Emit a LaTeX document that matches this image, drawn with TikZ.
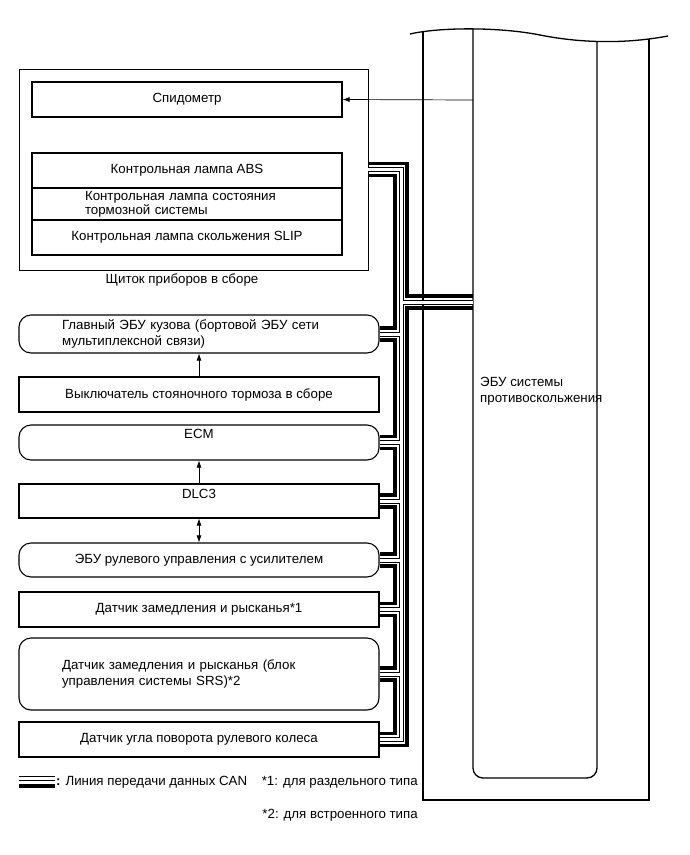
\documentclass[tikz,border=0pt]{standalone}
\usepackage{fontspec}
\setmainfont{Liberation Sans}
\usepackage{tikz}
\usetikzlibrary{arrows.meta,positioning,calc}

\begin{document}
\begin{tikzpicture}[
				x = 1pt, y = -1pt,
				every node/.style = {font=\fontsize{13.3}{16.5}\selectfont, inner sep=0pt},
				box/.style = {draw, line width=1.1pt, minimum width=360pt, minimum height=35pt},
				rbox/.style = {box, rounded corners=12pt},
				lamp/.style = {draw, line width=1.1pt, minimum width=310pt, minimum height=35pt},
				arr/.style = {-{Latex[length=7pt,width=5pt]}, line width=0.7pt},
				canthick/.style = {line width=3.5pt},
				canblk/.style = {line width=5pt},
				canwht/.style = {line width=3pt, white}
				]
				\useasboundingbox (0,0) rectangle (690,855);
				
				\coordinate (wl) at (410,34);
				\coordinate (wr) at (668,36);
				\begin{scope}[line width=1.3pt]
					\clip (wl) .. controls (440,27) and (500,27) .. (540,35) .. controls (575,42) and (620,45) .. (wr) -- (690,855) -- (400,855) -- cycle;
					\draw (423,0) -- (423,800) -- (649,800) -- (649,0);
					\draw[rounded corners=10pt] (473,0) -- (473,778) -- (597,778) -- (597,0);
				\end{scope}
				\draw[line width=1.3pt] (wl) .. controls (440,27) and (500,27) .. (540,35) .. controls (575,42) and (620,45) .. (wr);
				\node (ecutxt) [align=left, anchor=west] at (480,391) {ЭБУ системы\\противоскольжения};
				
				\node (instr) [draw, line width=0.8pt, minimum width=349pt, minimum height=201pt] at (193.5,169.5) {};
				\node (speedo) [lamp] at (187,99.5) {Спидометр};
				\node (abs) [lamp] at (187,170.5) {Контрольная лампа ABS};
				\node (brk) [lamp, minimum height=32pt, align=left, text width=204pt, inner xsep=53pt, font=\fontsize{13.3}{14}\selectfont] at (187,204) {Контрольная лампа состояния\\тормозной системы};
				\node (slip) [lamp] at (187,237.5) {Контрольная лампа скольжения SLIP};
				\node (instrcap) at (182,280) {Щиток приборов в сборе};
				
				\node (bodyecu) [rbox, minimum height=38pt, align=left, text width=274pt, inner xsep=43pt] at (199,334) {Главный ЭБУ кузова (бортовой ЭБУ сети\\мультиплексной связи)};
				\node (pkb) [box] at (199,394.5) {Выключатель стояночного тормоза в сборе};
				\node (ecm) [rbox, text height=9.5pt, text depth=17pt] at (199,442.5) {ECM};
				\node (dlc) [box, minimum height=34pt, text height=9.5pt, text depth=14pt] at (199,501) {DLC3};
				\node (eps) [rbox, minimum height=34pt] at (199,560) {ЭБУ рулевого управления с усилителем};
				\node (yaw1) [box] at (199,609.5) {Датчик замедления и рысканья*1};
				\node (yaw2) [rbox, minimum height=72pt, align=left, text width=274pt, inner xsep=43pt] at (199,674) {Датчик замедления и рысканья (блок\\управления системы SRS)*2};
				\node (steer) [box] at (199,739.5) {Датчик угла поворота рулевого колеса};
				
				\coordinate (ecuS) at (473,100);
				\draw[arr] (ecuS) -- (speedo.east);
				\draw[arr] (pkb.north) -- (bodyecu.south);
				\draw[arr] (dlc.north) -- (ecm.south);
				\draw[arr, {Latex[length=7pt,width=5pt]}-{Latex[length=7pt,width=5pt]}] (dlc.south) -- (eps.north);
				
				\coordinate (X1) at (395,0);
				\coordinate (X2) at (401,0);
				\coordinate (X3) at (407,0);
				\coordinate (ecu-t) at (473,296);
				\coordinate (ecu-m) at (473,302);
				\coordinate (ecu-b) at (473,308);
				\coordinate (ic-t) at ($(instr.east)+(0,-6)$);
				\coordinate (ic-m) at (instr.east);
				\coordinate (ic-b) at ($(instr.east)+(0,6)$);
				\foreach \n in {bodyecu,ecm,dlc,eps,yaw1,yaw2,steer}{
					\coordinate (\n-t) at ($(\n.east)+(0,-6)$);
					\coordinate (\n-m) at (\n.east);
					\coordinate (\n-b) at ($(\n.east)+(0,6)$);
				}
				
				\foreach \s in {canblk,canwht}{
					\draw[\s] (ic-m) -| (X2 |- steer-m) -- (steer-m);
					\foreach \n in {ecu-m,bodyecu-m,ecm-m,dlc-m,eps-m,yaw1-m,yaw2-m}
						\draw[\s] (\n) -- (X2 |- \n);
				}
				\draw[canthick] (ic-t) -| (X3 |- ecu-t) -- (ecu-t);
				\draw[canthick] (ecu-b) -| (X3 |- steer-b) -- (steer-b);
				\foreach \a/\b in {ic/bodyecu,bodyecu/ecm,ecm/dlc,dlc/eps,eps/yaw1,yaw1/yaw2,yaw2/steer}
					\draw[canthick] (\a-b) -| (X1 |- \b-t) -- (\b-t);
				
				\draw[canblk] (19,778) -- (55,778);
				\draw[canwht] (19,778) -- (55,778);
				\draw[canthick] (19,786) -- (55,786);
				\node (legcan) [anchor=west] at (56,782) {\textbf{:} Линия передачи данных CAN};
				\node (leg1) [anchor=east] at (418,782) {*1: для раздельного типа};
				\node (leg2) [anchor=east] at (418,815) {*2: для встроенного типа};
			\end{tikzpicture}
\end{document}
